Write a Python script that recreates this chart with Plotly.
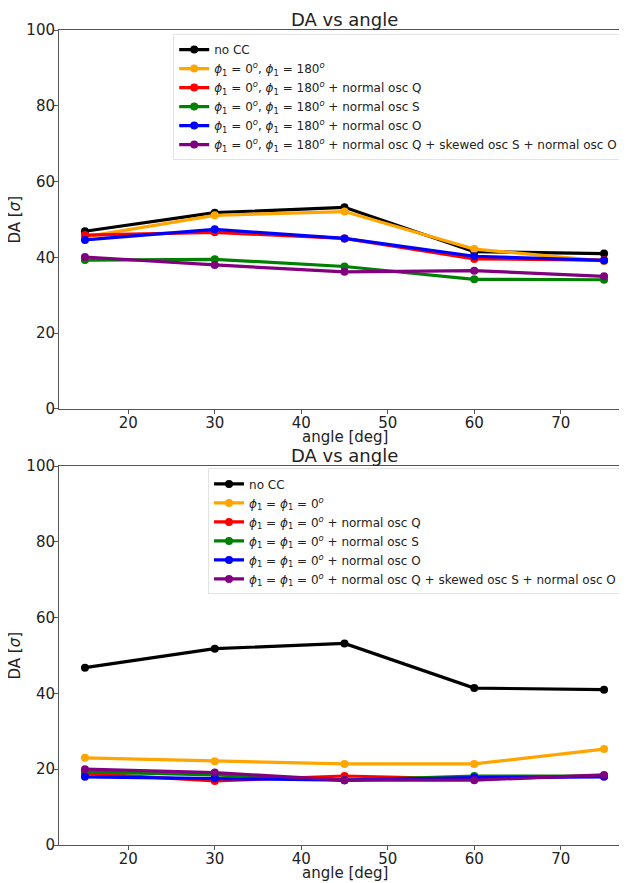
import plotly.graph_objects as go
from plotly.subplots import make_subplots

angles = [15, 30, 45, 60, 75]

# Top panel: phi1 = 0, phi1 = 180
top_nocc = [46.9, 51.8, 53.2, 41.5, 41.0]
top_base = [45.4, 51.1, 52.1, 42.2, 39.0]
top_oscQ = [45.9, 46.6, 45.0, 39.6, 39.3]
top_oscS = [39.3, 39.5, 37.6, 34.2, 34.1]
top_oscO = [44.6, 47.4, 45.0, 40.3, 39.2]
top_mix = [40.1, 38.0, 36.2, 36.5, 35.0]

# Bottom panel: phi1 = phi1 = 0
bot_nocc = [46.8, 51.8, 53.2, 41.4, 41.0]
bot_base = [23.0, 22.1, 21.4, 21.4, 25.3]
bot_oscQ = [18.9, 16.9, 18.2, 17.4, 18.3]
bot_oscS = [19.3, 18.5, 17.1, 18.2, 18.2]
bot_oscO = [18.0, 17.6, 17.1, 17.8, 18.0]
bot_mix = [20.0, 19.1, 17.1, 17.1, 18.5]

colors = ["black", "#FFA500", "#FF0000", "#008000", "#0000FF", "#800080"]

p180 = "<i>ϕ</i><sub>1</sub> = 0<sup><i>o</i></sup>, <i>ϕ</i><sub>1</sub> = 180<sup><i>o</i></sup>"
p00 = "<i>ϕ</i><sub>1</sub> = <i>ϕ</i><sub>1</sub> = 0<sup><i>o</i></sup>"
suffixes = ["", " + normal osc Q", " + normal osc S", " + normal osc O",
            " + normal osc Q + skewed osc S + normal osc O"]
top_names = ["no CC"] + [p180 + s for s in suffixes]
bot_names = ["no CC"] + [p00 + s for s in suffixes]

top_series = [top_nocc, top_base, top_oscQ, top_oscS, top_oscO, top_mix]
bot_series = [bot_nocc, bot_base, bot_oscQ, bot_oscS, bot_oscO, bot_mix]

fig = make_subplots(rows=2, cols=1)

for name, ys, c in zip(top_names, top_series, colors):
    fig.add_trace(go.Scatter(x=angles, y=ys, name=name, mode="lines+markers",
                             line=dict(color=c, width=3.2), marker=dict(color=c, size=8),
                             legend="legend"), row=1, col=1)
for name, ys, c in zip(bot_names, bot_series, colors):
    fig.add_trace(go.Scatter(x=angles, y=ys, name=name, mode="lines+markers",
                             line=dict(color=c, width=3.2), marker=dict(color=c, size=8),
                             legend="legend2"), row=2, col=1)

font = "DejaVu Sans, Liberation Sans, sans-serif"
ax_common = dict(showline=True, linecolor="#555", linewidth=1, mirror=True,
                 ticks="outside", ticklen=4, tickcolor="#555", showgrid=False,
                 zeroline=False, tickfont=dict(size=15, color="#222"))

fig.update_xaxes(range=[12, 78], dtick=10, tick0=0, ticklabelstandoff=-4, **ax_common)
fig.update_yaxes(range=[0, 100], dtick=20, ticklabelstandoff=-4, **ax_common)

TOP_LO, BOT_HI = 0.535, 0.465
title_font = dict(size=18, color="#222")
lab_font = dict(size=15, color="#222")

annotations = []
for ytop, ybot in [(1.0, TOP_LO), (BOT_HI, 0.0)]:
    annotations.append(dict(text="DA vs angle", x=0.5, y=ytop, xref="paper", yref="paper",
                            xanchor="center", yanchor="middle", yshift=11, showarrow=False,
                            font=title_font))
    annotations.append(dict(text="angle [deg]", x=0.5, y=ybot, xref="paper", yref="paper",
                            xanchor="center", yanchor="middle", yshift=-28, showarrow=False,
                            font=lab_font))
    annotations.append(dict(text="DA [<i>σ</i>]", x=0, y=(ytop + ybot) / 2, xref="paper",
                            yref="paper", xanchor="center", yanchor="middle", xshift=-44,
                            textangle=-90, showarrow=False, font=lab_font))

fig.update_layout(
    width=627, height=875,
    margin=dict(l=51, r=5, t=22, b=38, autoexpand=False),
    plot_bgcolor="white", paper_bgcolor="white",
    font=dict(family=font, color="#222"),
    xaxis=dict(domain=[0, 1]), xaxis2=dict(domain=[0, 1]),
    yaxis=dict(domain=[TOP_LO, 1.0]), yaxis2=dict(domain=[0.0, BOT_HI]),
    legend=dict(x=0.2, y=0.995, xanchor="left", yanchor="top",
                bgcolor="rgba(255,255,255,0.8)", bordercolor="#e3e3e3", borderwidth=1,
                font=dict(size=12, color="#222"), itemwidth=30, tracegroupgap=0),
    legend2=dict(x=0.261, y=0.462, xanchor="left", yanchor="top",
                 bgcolor="rgba(255,255,255,0.8)", bordercolor="#e3e3e3", borderwidth=1,
                 font=dict(size=12, color="#222"), itemwidth=30, tracegroupgap=0),
    annotations=annotations,
)

fig.write_html("out.html")
